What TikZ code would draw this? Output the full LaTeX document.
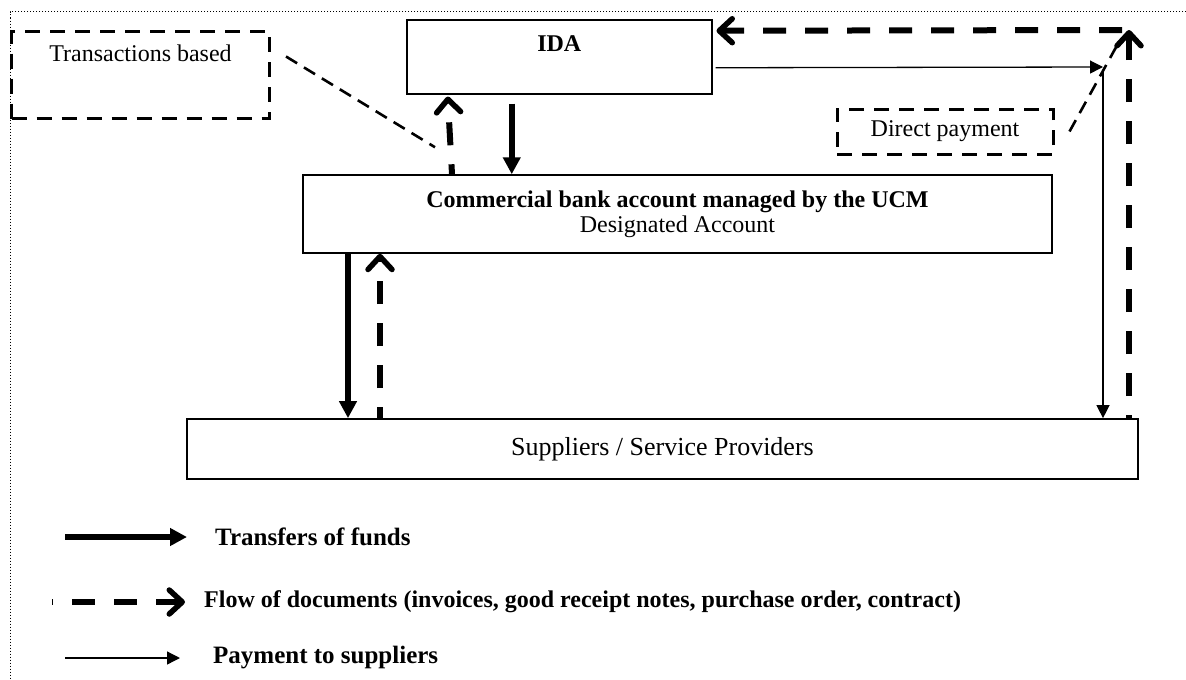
\documentclass[tikz,border=0pt]{standalone}
\usepackage{fontspec}
\setmainfont{Liberation Serif}
\usetikzlibrary{arrows.meta,positioning}

\begin{document}
\begin{tikzpicture}[x=1pt,y=-1pt,font=\fontsize{24}{25}\selectfont,
	box/.style={draw,line width=1.5pt,inner sep=0pt},
	dbox/.style={draw,line width=3pt,dash pattern=on 15pt off 10pt,inner sep=0pt},
	link/.style={line width=2.6pt,dash pattern=on 13pt off 8pt},
	fund/.style={line width=6pt,-{Triangle[length=17pt,width=17pt]}},
	doc/.style={line width=6pt,dash pattern=on 23pt off 19pt,-{Straight Barb[length=13pt,width=24pt,line width=5.5pt,round]}},
	pay/.style={line width=1.3pt,-{Triangle[length=13pt,width=13pt]}},
	legend/.style={anchor=west,inner sep=0pt,font=\fontsize{25}{26}\selectfont\bfseries}]
		\useasboundingbox (0,0) rectangle (1186,680);
		\draw[line width=1pt,dash pattern=on 1pt off 2pt] (1186,11.5) -- (10,11.5) -- (10,680);

		%boxes
		\node[box,minimum width=305pt,minimum height=74pt,anchor=north west] (ida) at (406,19) {};
		\node[inner sep=0pt,below=16pt of ida.north] (idalbl) {\bfseries IDA};
		\node[dbox,minimum width=258pt,minimum height=87pt,anchor=north west] (trans) at (10,30) {};
		\node[inner sep=0pt,below=15pt of trans.north] (translbl) {Transactions based};
		\node[dbox,minimum width=216pt,minimum height=45pt] (direct) at (945,131.5) {Direct payment};
		\node[box,minimum width=749pt,minimum height=78pt,align=center] (cba) at (677.5,214) {{\bfseries Commercial bank account managed by the UCM}\\Designated Account};
		\node[box,line width=1.7pt,minimum width=951pt,minimum height=60pt,font=\fontsize{26}{28}\selectfont] (sup) at (662.5,449) {Suppliers / Service Providers};

		\coordinate (dcorner) at (1129,30);
		\coordinate (pcorner) at (1103,67);

		%funds
		\coordinate (f1) at ([xshift=-47.5pt,yshift=-9pt]ida.south);
		\draw[fund] (f1) -- (f1 |- cba.north);
		\coordinate (f2) at ([xshift=-329.5pt]cba.south);
		\draw[fund] (f2) -- (f2 |- sup.north);

		%documents
		\draw[doc,dash phase=13pt] ([xshift=-225.5pt]cba.north) -- ([xshift=-111.5pt,yshift=-2pt]ida.south);
		\coordinate (d1) at ([xshift=-282.5pt]sup.north);
		\draw[doc,dash phase=12pt] (d1) -- (d1 |- cba.south);
		\draw[doc,dash phase=20pt] ([xshift=466.5pt]sup.north) -- (dcorner);
		\draw[doc] ([xshift=-7pt]dcorner) -- ([xshift=4pt,yshift=26pt]ida.east);

		%payments
		\draw[pay] ([xshift=3pt,yshift=-11pt]ida.east) -- (pcorner);
		\draw[pay] ([yshift=-5pt]pcorner) -- (pcorner |- sup.north);

		%links
		\draw[link] ([xshift=15pt,yshift=18.5pt]trans.east) -- ([xshift=-242.5pt,yshift=27pt]cba.north);
		\draw[link] ([xshift=15pt]direct.east) -- ([xshift=-9pt,yshift=-10pt]dcorner);

		%legend
		\node[legend] (lgfund) at (215,537) {Transfers of funds};
		\node[legend,font=\fontsize{24}{26}\selectfont\bfseries] (lgdoc) at (204,602) {Flow of documents (invoices, good receipt notes, purchase order, contract)};
		\node[legend] (lgpay) at (213,658) {Payment to suppliers};
		\draw[fund] ([xshift=-150pt]lgfund.west) -- ([xshift=-28pt]lgfund.west);
		\draw[doc,dash phase=22pt] ([xshift=-152pt]lgdoc.west) -- ([xshift=-19pt]lgdoc.west);
		\draw[pay] ([xshift=-148pt]lgpay.west) -- ([xshift=-33pt]lgpay.west);

	\end{tikzpicture}
\end{document}
